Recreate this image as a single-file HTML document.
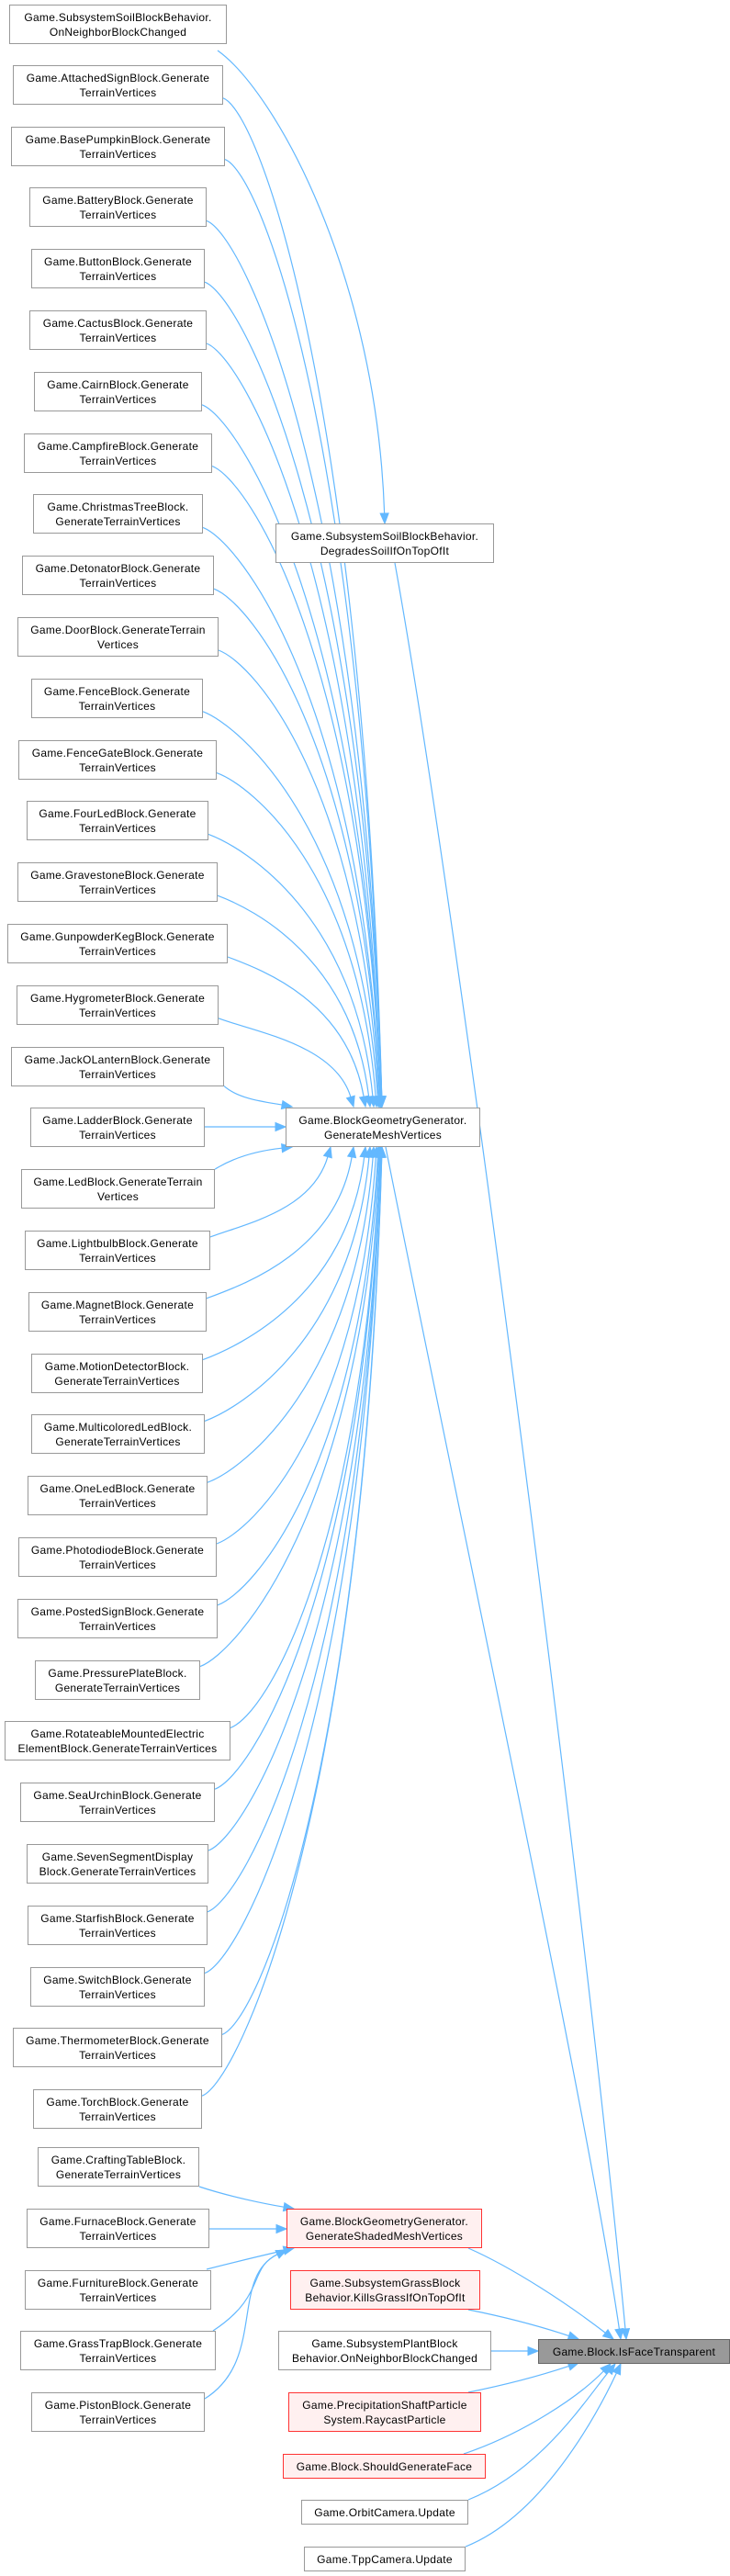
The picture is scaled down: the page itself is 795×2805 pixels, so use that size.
<!DOCTYPE html>
<html><head><meta charset="utf-8">
<style>
html,body{margin:0;padding:0;background:#fff;}
body{width:795px;height:2805px;position:relative;overflow:hidden;font-family:"Liberation Sans",Arial,sans-serif;}
.b{position:absolute;box-sizing:border-box;border:1px solid #999;background:#fff;font-size:12px;line-height:16px;color:#000;text-align:center;display:flex;align-items:center;justify-content:center;letter-spacing:0.3px;white-space:nowrap;}
.r{border-color:#ff3333;background:#fff0f0;}
.g{border-color:#666;background:#999;}
svg{position:absolute;left:0;top:0;}
</style></head><body>
<svg id="s" width="795" height="2805"></svg>
<div class="b" style="left:10px;top:5px;width:237px;height:43px">Game.SubsystemSoilBlockBehavior.<br>OnNeighborBlockChanged</div>
<div class="b" style="left:14px;top:71px;width:229px;height:43px">Game.AttachedSignBlock.Generate<br>TerrainVertices</div>
<div class="b" style="left:12px;top:138px;width:233px;height:43px">Game.BasePumpkinBlock.Generate<br>TerrainVertices</div>
<div class="b" style="left:32px;top:204px;width:193px;height:43px">Game.BatteryBlock.Generate<br>TerrainVertices</div>
<div class="b" style="left:34px;top:271px;width:189px;height:43px">Game.ButtonBlock.Generate<br>TerrainVertices</div>
<div class="b" style="left:32px;top:338px;width:193px;height:43px">Game.CactusBlock.Generate<br>TerrainVertices</div>
<div class="b" style="left:37px;top:405px;width:183px;height:43px">Game.CairnBlock.Generate<br>TerrainVertices</div>
<div class="b" style="left:26px;top:472px;width:205px;height:43px">Game.CampfireBlock.Generate<br>TerrainVertices</div>
<div class="b" style="left:36px;top:538px;width:185px;height:43px">Game.ChristmasTreeBlock.<br>GenerateTerrainVertices</div>
<div class="b" style="left:24px;top:605px;width:209px;height:43px">Game.DetonatorBlock.Generate<br>TerrainVertices</div>
<div class="b" style="left:19px;top:672px;width:219px;height:43px">Game.DoorBlock.GenerateTerrain<br>Vertices</div>
<div class="b" style="left:34px;top:739px;width:187px;height:43px">Game.FenceBlock.Generate<br>TerrainVertices</div>
<div class="b" style="left:20px;top:806px;width:216px;height:43px">Game.FenceGateBlock.Generate<br>TerrainVertices</div>
<div class="b" style="left:29px;top:872px;width:198px;height:43px">Game.FourLedBlock.Generate<br>TerrainVertices</div>
<div class="b" style="left:19px;top:939px;width:218px;height:43px">Game.GravestoneBlock.Generate<br>TerrainVertices</div>
<div class="b" style="left:8px;top:1006px;width:240px;height:43px">Game.GunpowderKegBlock.Generate<br>TerrainVertices</div>
<div class="b" style="left:18px;top:1073px;width:220px;height:43px">Game.HygrometerBlock.Generate<br>TerrainVertices</div>
<div class="b" style="left:12px;top:1140px;width:232px;height:43px">Game.JackOLanternBlock.Generate<br>TerrainVertices</div>
<div class="b" style="left:33px;top:1206px;width:190px;height:43px">Game.LadderBlock.Generate<br>TerrainVertices</div>
<div class="b" style="left:23px;top:1273px;width:211px;height:43px">Game.LedBlock.GenerateTerrain<br>Vertices</div>
<div class="b" style="left:27px;top:1340px;width:202px;height:43px">Game.LightbulbBlock.Generate<br>TerrainVertices</div>
<div class="b" style="left:31px;top:1407px;width:194px;height:43px">Game.MagnetBlock.Generate<br>TerrainVertices</div>
<div class="b" style="left:34px;top:1474px;width:187px;height:43px">Game.MotionDetectorBlock.<br>GenerateTerrainVertices</div>
<div class="b" style="left:34px;top:1540px;width:189px;height:43px">Game.MulticoloredLedBlock.<br>GenerateTerrainVertices</div>
<div class="b" style="left:30px;top:1607px;width:196px;height:43px">Game.OneLedBlock.Generate<br>TerrainVertices</div>
<div class="b" style="left:20px;top:1674px;width:216px;height:43px">Game.PhotodiodeBlock.Generate<br>TerrainVertices</div>
<div class="b" style="left:19px;top:1741px;width:218px;height:43px">Game.PostedSignBlock.Generate<br>TerrainVertices</div>
<div class="b" style="left:38px;top:1808px;width:180px;height:43px">Game.PressurePlateBlock.<br>GenerateTerrainVertices</div>
<div class="b" style="left:5px;top:1874px;width:246px;height:43px">Game.RotateableMountedElectric<br>ElementBlock.GenerateTerrainVertices</div>
<div class="b" style="left:22px;top:1941px;width:212px;height:43px">Game.SeaUrchinBlock.Generate<br>TerrainVertices</div>
<div class="b" style="left:29px;top:2008px;width:198px;height:43px">Game.SevenSegmentDisplay<br>Block.GenerateTerrainVertices</div>
<div class="b" style="left:30px;top:2075px;width:196px;height:43px">Game.StarfishBlock.Generate<br>TerrainVertices</div>
<div class="b" style="left:33px;top:2142px;width:190px;height:43px">Game.SwitchBlock.Generate<br>TerrainVertices</div>
<div class="b" style="left:14px;top:2208px;width:228px;height:43px">Game.ThermometerBlock.Generate<br>TerrainVertices</div>
<div class="b" style="left:36px;top:2275px;width:184px;height:43px">Game.TorchBlock.Generate<br>TerrainVertices</div>

<div class="b" style="left:41px;top:2338px;width:176px;height:43px">Game.CraftingTableBlock.<br>GenerateTerrainVertices</div>
<div class="b" style="left:29px;top:2405px;width:199px;height:43px">Game.FurnaceBlock.Generate<br>TerrainVertices</div>
<div class="b" style="left:27px;top:2472px;width:203px;height:43px">Game.FurnitureBlock.Generate<br>TerrainVertices</div>
<div class="b" style="left:22px;top:2538px;width:213px;height:43px">Game.GrassTrapBlock.Generate<br>TerrainVertices</div>
<div class="b" style="left:34px;top:2605px;width:189px;height:43px">Game.PistonBlock.Generate<br>TerrainVertices</div>

<div class="b" style="left:300px;top:570px;width:238px;height:43px">Game.SubsystemSoilBlockBehavior.<br>DegradesSoilIfOnTopOfIt</div>
<div class="b" style="left:311px;top:1206px;width:212px;height:43px">Game.BlockGeometryGenerator.<br>GenerateMeshVertices</div>
<div class="b r" style="left:312px;top:2405px;width:213px;height:43px">Game.BlockGeometryGenerator.<br>GenerateShadedMeshVertices</div>
<div class="b r" style="left:316px;top:2472px;width:207px;height:43px">Game.SubsystemGrassBlock<br>Behavior.KillsGrassIfOnTopOfIt</div>
<div class="b" style="left:303px;top:2538px;width:232px;height:43px">Game.SubsystemPlantBlock<br>Behavior.OnNeighborBlockChanged</div>
<div class="b r" style="left:314px;top:2605px;width:210px;height:43px">Game.PrecipitationShaftParticle<br>System.RaycastParticle</div>
<div class="b r" style="left:308px;top:2672px;width:221px;height:27px">Game.Block.ShouldGenerateFace</div>
<div class="b" style="left:328px;top:2722px;width:182px;height:27px">Game.OrbitCamera.Update</div>
<div class="b" style="left:331px;top:2773px;width:176px;height:27px">Game.TppCamera.Update</div>
<div class="b g" style="left:586px;top:2547px;width:209px;height:27px">Game.Block.IsFaceTransparent</div>

<script>
(function(){
var s=document.getElementById('s'),C='#63b8ff',out='';
function e(x0,y0,c1x,c1y,c2x,c2y,x1,y1){
 var dx=x1-c2x,dy=y1-c2y,l=Math.hypot(dx,dy)||1;dx/=l;dy/=l;
 var L=11,W=4.5,bx=x1-dx*L,by=y1-dy*L;
 out+='<path d="M'+x0+','+y0+' C'+c1x+','+c1y+' '+c2x+','+c2y+' '+bx+','+by+'" fill="none" stroke="'+C+'" stroke-width="1.2"/>';
 out+='<polygon points="'+x1+','+y1+' '+(bx-dy*W)+','+(by+dx*W)+' '+(bx+dy*W)+','+(by-dx*W)+'" fill="'+C+'" stroke="'+C+'"/>';
}
var R=[247,243,245,225,223,225,220,231,221,233,238,221,236,227,237,248,238,244,223,234,229,225,221,223,226,236,237,218,251,234,227,226,223,242,220];
e(237,55,300,100,410,300,419,570);
for(var i=1;i<35;i++){
 var bt=4+66.8*i,xr=R[i];
 if(i==18){e(xr,1227,260,1227,290,1227,311,1227);continue;}
 if(i<18){
  var tx=[0,416,416,416,416,415,415,415,414,414,413,412,410,407,403,398,385,360][i];
  if(i==17){e(xr,bt+43,260,1197,290,1200,318,1205);continue;}
  var sy=bt+36;
  e(xr,sy,xr+40,sy+15,tx-20,sy+(1205-sy)*0.3,tx,1205);
 }else{
  var k=i-18;
  var tx2=[0,0,360,385,398,403,407,410,412,413,414,414,415,415,415,416,416][k];
  if(i==19){e(xr,bt,260,1257,290,1252,318,1249);continue;}
  var sy2=bt+7;
  e(xr,sy2,xr+40,sy2-15,tx2-20,sy2-(sy2-1249)*0.3,tx2,1249);
 }
}
e(430,613,500,1000,640,2100,682,2547);
e(420,1249,500,1650,640,2300,676,2547);
e(217,2381,250,2392,290,2400,320,2405);
e(228,2427,260,2427,290,2427,312,2427);
e(225,2471,260,2462,290,2455,320,2448);
e(232,2538,290,2500,270,2470,312,2450);
e(223,2612,290,2570,250,2480,312,2450);
e(510,2448,560,2470,620,2510,668,2547);
e(510,2515,560,2525,600,2537,630,2547);
e(535,2560,555,2560,570,2560,586,2560);
e(510,2605,560,2595,600,2583,630,2573);
e(505,2672,570,2650,630,2610,665,2574);
e(510,2722,590,2690,640,2610,670,2574);
e(507,2773,590,2740,650,2630,676,2574);
s.innerHTML=out;
})();
</script>
</body></html>
